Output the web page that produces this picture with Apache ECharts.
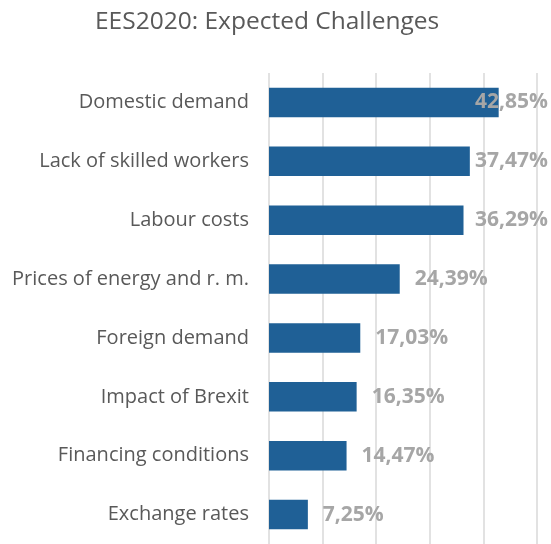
<!DOCTYPE html>
<html>
<head>
<meta charset="utf-8">
<script src="https://cdn.jsdelivr.net/npm/echarts@6/dist/echarts.min.js"></script>
<style>
html,body{margin:0;padding:0;background:#fff}
#chart{width:551px;height:544px}
</style>
</head>
<body>
<div id="chart"></div>
<script>
var categories = ['Domestic demand', 'Lack of skilled workers', 'Labour costs', 'Prices of energy and r. m.', 'Foreign demand', 'Impact of Brexit', 'Financing conditions', 'Exchange rates']
var values = [42.85, 37.47, 36.29, 24.39, 17.03, 16.35, 14.47, 7.25]

var W = 551
var chart = echarts.init(document.getElementById('chart'))
chart.setOption({
    animation: false,
    title: {
        text: 'EES2020: Expected Challenges',
        left: 90,
        top: 5,
        textStyle: {fontFamily: 'Open Sans', fontSize: 24.5, fontWeight: 'normal', color: '#595959'}
    },
    grid: {left: 269, right: 14, top: 73, bottom: -4},
    xAxis: {
        type: 'value',
        min: 0,
        max: 50,
        interval: 10,
        axisLabel: {show: false},
        axisLine: {show: false},
        axisTick: {show: false},
        splitLine: {lineStyle: {color: '#d9d9d9', width: 1.5}}
    },
    yAxis: {
        type: 'category',
        inverse: true,
        data: categories,
        axisLine: {show: false},
        axisTick: {show: false},
        axisLabel: {margin: 20, fontFamily: 'Open Sans', fontSize: 20, color: '#595959'}
    },
    series: [{
        type: 'bar',
        data: values,
        barWidth: '50%',
        itemStyle: {color: '#1f6096'},
        label: {
            show: true,
            position: 'right',
            distance: 15,
            fontFamily: 'Open Sans',
            fontSize: 21,
            fontWeight: 'bold',
            color: '#a6a6a6',
            formatter: function(p){return p.value.toFixed(2).replace('.', ',') + '%'}
        },
        labelLayout: function(p){
            return {
                x: Math.min(p.labelRect.x, W - 3 - p.labelRect.width),
                y: p.rect.y + p.rect.height / 2,
                align: 'left',
                verticalAlign: 'middle'
            }
        }
    }]
})
</script>
</body>
</html>
